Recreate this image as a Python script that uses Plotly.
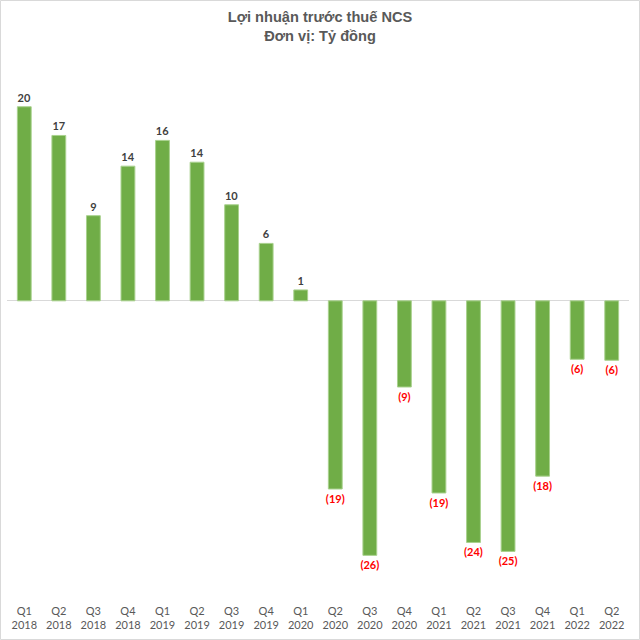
import plotly.graph_objects as go

quarters = ['Q1<br>2018', 'Q2<br>2018', 'Q3<br>2018', 'Q4<br>2018',
            'Q1<br>2019', 'Q2<br>2019', 'Q3<br>2019', 'Q4<br>2019',
            'Q1<br>2020', 'Q2<br>2020', 'Q3<br>2020', 'Q4<br>2020',
            'Q1<br>2021', 'Q2<br>2021', 'Q3<br>2021', 'Q4<br>2021',
            'Q1<br>2022', 'Q2<br>2022']
profit = [19.6, 16.7, 8.6, 13.6, 16.2, 14.0, 9.7, 5.8, 1.1,
          -19.0, -25.7, -8.7, -19.4, -24.4, -25.3, -17.7, -5.9, -6.0]


def fmt(v):
    n = round(abs(v))
    return f'({n})' if v < 0 else f'{n}'


labels = [fmt(v) for v in profit]
label_colors = ['#ff0000' if v < 0 else '#404040' for v in profit]

fig = go.Figure()
fig.add_trace(go.Bar(
    x=quarters,
    y=profit,
    text=labels,
    textposition='outside',
    constraintext='none',
    textfont=dict(family='Lato', size=11, color=label_colors, weight='bold'),
    marker=dict(color='#70ad47', line=dict(color='#a9d18e', width=1)),
    cliponaxis=False,
    hoverinfo='x+y',
))

W, H = 640, 640
ml, mr, mt, mb = 7, 11, 80, 48
pw, ph = W - ml - mr, H - mt - mb

fig.update_layout(
    width=W,
    height=H,
    margin=dict(l=ml, r=mr, t=mt, b=mb),
    paper_bgcolor='white',
    plot_bgcolor='white',
    bargap=0.6,
    showlegend=False,
    title=dict(
        text='<b>Lợi nhuận trước thuế NCS<br>Đơn vị: Tỷ đồng</b>',
        x=0.5,
        xanchor='center',
        y=0.965,
        yanchor='top',
        font=dict(family='Liberation Sans', size=14.6, color='#595959'),
    ),
    xaxis=dict(
        showgrid=False,
        showline=False,
        ticks='',
        tickfont=dict(family='Lato', size=11, color='#595959'),
        ticklabelstandoff=11,
    ),
    yaxis=dict(
        range=[-29.4, 22.3],
        showgrid=False,
        showticklabels=False,
        zeroline=True,
        zerolinecolor='#d9d9d9',
        zerolinewidth=1,
    ),
    shapes=[dict(
        type='rect', xref='paper', yref='paper',
        x0=-ml / pw + 0.5 / pw, x1=1 + mr / pw - 0.5 / pw,
        y0=-mb / ph + 0.5 / ph, y1=1 + mt / ph - 0.5 / ph,
        line=dict(color='#d9d9d9', width=1),
    )],
)

fig.write_html('out.html', config={'displayModeBar': False},
               post_script="document.body.style.margin='0';")
